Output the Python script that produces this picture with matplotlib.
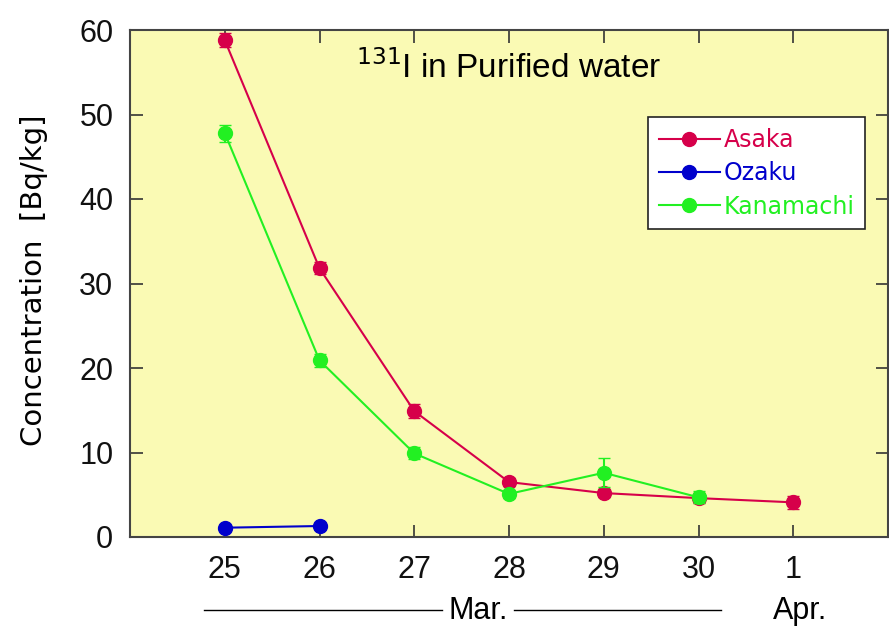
import matplotlib
matplotlib.use("Agg")
import matplotlib.pyplot as plt
from matplotlib.transforms import blended_transform_factory

plt.rcParams["font.family"] = ["Liberation Sans", "DejaVu Sans"]

# days: 25..30 Mar, 1 Apr -> x positions 25..31
day_labels = ["25", "26", "27", "28", "29", "30", "1"]
day_pos = [25, 26, 27, 28, 29, 30, 31]

asaka_x = [25, 26, 27, 28, 29, 30, 31]
asaka_y = [58.8, 31.8, 14.9, 6.5, 5.2, 4.6, 4.1]
asaka_err = [0.8, 0.7, 0.8, 0.5, 0.5, 0.6, 0.8]

ozaku_x = [25, 26]
ozaku_y = [1.1, 1.3]
ozaku_err = [0.3, 0.3]

kana_x = [25, 26, 27, 28, 29, 30]
kana_y = [47.8, 20.9, 9.9, 5.1, 7.6, 4.7]
kana_err = [1.0, 0.8, 0.7, 0.5, 1.7, 0.7]

RED = "#d6004a"
BLUE = "#0000cc"
GREEN = "#22f022"

fig = plt.figure(figsize=(8.89, 6.27), dpi=100)
ax = fig.add_axes([130 / 889, 90 / 627, 758 / 889, 507 / 627])
ax.set_facecolor("#fafab4")

series = [("Asaka", asaka_x, asaka_y, asaka_err, RED, 3),
          ("Ozaku", ozaku_x, ozaku_y, ozaku_err, BLUE, 4),
          ("Kanamachi", kana_x, kana_y, kana_err, GREEN, 5)]
for name, xs, ys, es, col, z in series:
    ax.errorbar(xs, ys, yerr=es, color=col, fmt="none", elinewidth=1.5,
                capsize=4, zorder=z)
    ax.plot(xs, ys, color=col, marker="o", ms=10, lw=1.5, label=name,
            zorder=z)

ax.set_xlim(24, 32)
ax.set_ylim(0, 60)
ax.set_xticks(day_pos)
ax.set_xticklabels(day_labels)
ax.set_yticks(range(0, 61, 10))
ax.tick_params(direction="in", length=9, width=1.2, labelsize=22,
               top=True, right=True, colors="#333333", labelcolor="#111111")
ax.tick_params(axis="x", pad=13)
ax.tick_params(axis="y", pad=12)
for s in ax.spines.values():
    s.set_color("#444444")
    s.set_linewidth(1.5)

ax.set_ylabel("Concentration  [Bq/kg]", fontsize=21, family="DejaVu Sans")
ax.yaxis.set_label_coords(-0.108, 0.507)
ax.text(0.5, 0.925, r"$^{131}$I in Purified water", transform=ax.transAxes,
        ha="center", va="center", fontsize=24)

leg = ax.legend(loc="upper right", bbox_to_anchor=(0.970, 0.828),
                prop={"family": "DejaVu Sans", "size": 17},
                frameon=True, fancybox=False, framealpha=1, handlelength=2.6,
                handletextpad=0.15, borderpad=0.45, labelspacing=0.4,
                borderaxespad=0)
leg.get_frame().set_edgecolor("#222222")
leg.get_frame().set_linewidth(1.2)
for txt, s in zip(leg.get_texts(), series):
    txt.set_color(s[4])

# month annotation under the axis
tr = blended_transform_factory(ax.transData, ax.transAxes)
ax.plot([24.78, 27.29], [-0.144, -0.144], color="black", lw=1, transform=tr,
        clip_on=False)
ax.plot([28.05, 30.24], [-0.144, -0.144], color="black", lw=1, transform=tr,
        clip_on=False)
ax.text(27.68, -0.146, "Mar.", transform=tr, ha="center", va="center",
        fontsize=22)
ax.text(31.07, -0.146, "Apr.", transform=tr, ha="center", va="center",
        fontsize=22)

fig.savefig("out.png", dpi=100)
